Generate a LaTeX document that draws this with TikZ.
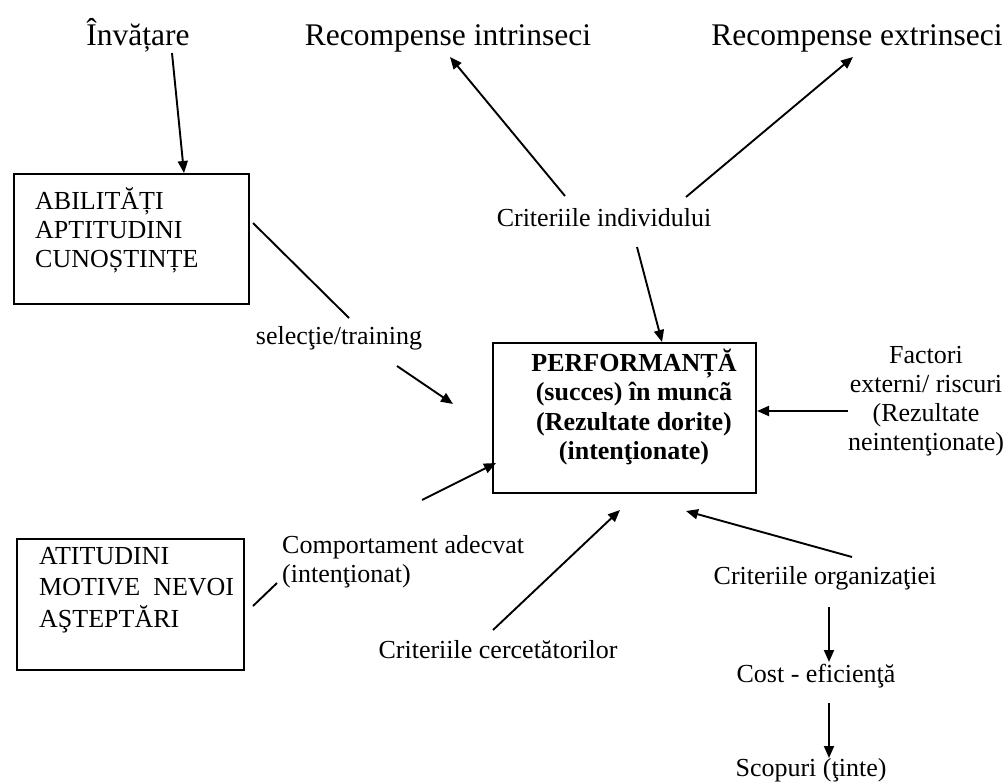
\documentclass[tikz,border=0pt]{standalone}
\usepackage{fontspec}
\setmainfont{Liberation Serif}
\usetikzlibrary{arrows.meta}
\begin{document}
\begin{tikzpicture}[x=1pt,y=-1pt,
  txt/.style={font=\fontsize{26}{29}\selectfont, inner sep=0pt},
  boldtxt/.style={font=\fontsize{26}{29.5}\selectfont\bfseries, inner sep=0pt},
  big/.style={font=\fontsize{31.5}{34}\selectfont, inner sep=0pt, anchor=base},
  frame/.style={draw, line width=1.8pt, inner sep=0pt},
  conn/.style={line width=1.9pt},
  arr/.style={conn, -{Triangle[length=12pt,width=10pt]}},
]
\useasboundingbox (0,0) rectangle (1008,783);

% top row, on a common baseline
\node[big] (inv)  at (138,45.5) {Învățare};
\node[big] (rint) at (448,45.5) {Recompense intrinseci};
\node[big] (rext) at (857,45.5) {Recompense extrinseci};

% left boxes
\node[frame, minimum width=235pt, minimum height=130pt, anchor=north west] (abil) at (13,173) {};
\node[txt, anchor=west, align=left] (abilT) at (35,230) {ABILITĂȚI\\APTITUDINI\\CUNOȘTINȚE};

\node[frame, minimum width=227pt, minimum height=131pt, anchor=north west] (atit) at (16,538) {};
\node[txt, font=\fontsize{26}{31.5}\selectfont, anchor=west, align=left] (atitT) at (39,590) {ATITUDINI\\MOTIVE~~NEVOI\\AŞTEPTĂRI};

% central box
\node[frame, minimum width=263pt, minimum height=150pt, anchor=north west] (perf) at (492,342) {};
\node[boldtxt, align=center] (perfT) at (634,407) {PERFORMANȚĂ\\(succes) în muncã\\(Rezultate dorite)\\(intenţionate)};

% labels
\node[txt] (indiv) at (604,218) {Criteriile individului};
\node[txt] (sel) at (339,338) {selecţie/training};
\node[txt, align=center] (fact) at (926,401) {Factori\\externi/ riscuri\\(Rezultate\\neintenţionate)};
\node[txt, anchor=west, align=left] (comp) at (282,562) {Comportament adecvat\\(intenţionat)};
\node[txt] (cerc) at (498,650) {Criteriile cercetătorilor};
\node[txt] (org) at (825,578) {Criteriile organizaţiei};
\node[txt] (cost) at (816,676) {Cost - eficienţă};
\node[txt] (scop) at (811,770) {Scopuri (ţinte)};

% connector end points
\coordinate (invOut)   at (172,53);
\coordinate (abilIn)   at (184,173);
\coordinate (abilOut)  at (253,223);
\coordinate (selIn)    at (349,318);
\coordinate (selOut)   at (397,366);
\coordinate (perfSel)  at (453,404);
\coordinate (compOut)  at (422,500);
\coordinate (perfComp) at (496,463);
\coordinate (atitOut)  at (253,606);
\coordinate (compIn)   at (277,583);
\coordinate (cercOut)  at (493,630);
\coordinate (perfCerc) at (620,510);
\coordinate (orgOut)   at (852,557);
\coordinate (perfOrg)  at (686,511);
\coordinate (orgDown)  at (829,607);
\coordinate (costIn)   at (829,662);
\coordinate (costDown) at (829,703);
\coordinate (scopIn)   at (829,758);
\coordinate (factOut)  at (848,411);
\coordinate (perfFact) at (757,411);
\coordinate (indDown)  at (637,247);
\coordinate (perfInd)  at (662,342);
\coordinate (indLeft)  at (565,196);
\coordinate (rintIn)   at (450,57);
\coordinate (indRight) at (686,197);
\coordinate (rextIn)   at (853,57);

% connectors
\draw[arr]  (invOut) -- (abilIn);
\draw[conn] (abilOut) -- (selIn);
\draw[arr]  (selOut) -- (perfSel);
\draw[arr]  (compOut) -- (perfComp);
\draw[conn] (atitOut) -- (compIn);
\draw[arr]  (cercOut) -- (perfCerc);
\draw[arr]  (orgOut) -- (perfOrg);
\draw[arr]  (orgDown) -- (costIn);
\draw[arr]  (costDown) -- (scopIn);
\draw[arr]  (factOut) -- (perfFact);
\draw[arr]  (indDown) -- (perfInd);
\draw[arr]  (indLeft) -- (rintIn);
\draw[arr]  (indRight) -- (rextIn);
\end{tikzpicture}
\end{document}
